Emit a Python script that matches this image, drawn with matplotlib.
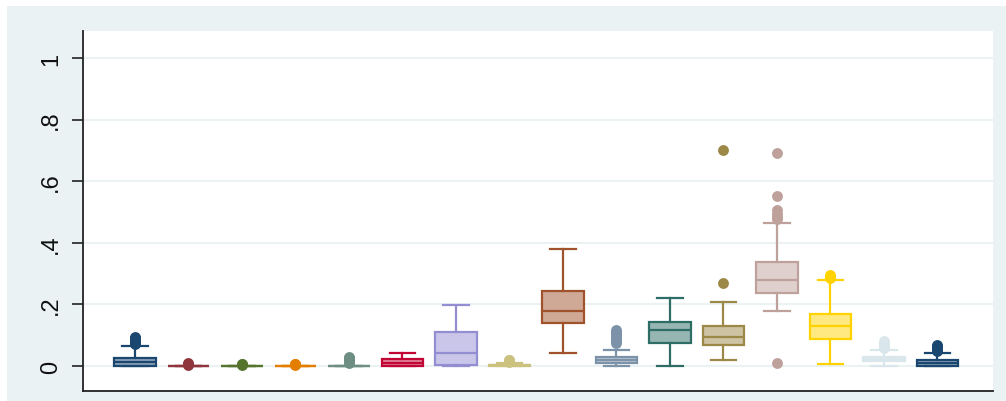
import matplotlib
matplotlib.use("Agg")
import matplotlib.pyplot as plt
from matplotlib.colors import to_rgb
from matplotlib.patches import Rectangle

# s2color palette, one colour per series (16th wraps to navy again)
colors = ["#1A476F", "#90353B", "#55752F", "#E37E00", "#6E8E84", "#C10534",
          "#938DD2", "#CAC27E", "#A0522D", "#7B92A8", "#2D6D66", "#9C8847",
          "#BFA19C", "#FFD200", "#D9E6EB", "#1A476F"]

# box statistics per series
q1 = [0.0, 0.0, 0.0, 0.0, 0.0, 0.0, 0.003, 0.0, 0.14, 0.01, 0.075, 0.069,
      0.237, 0.088, 0.015, 0.0]
med = [0.012, 0.0, 0.0, 0.0, 0.0, 0.01, 0.042, 0.002, 0.18, 0.02, 0.117, 0.093,
       0.279, 0.129, 0.022, 0.01]
q3 = [0.025, 0.0, 0.0, 0.0, 0.0, 0.022, 0.111, 0.004, 0.2435, 0.03, 0.142, 0.129,
      0.338, 0.169, 0.03, 0.019]
whislo = [0.0, 0.0, 0.0, 0.0, 0.0, 0.0, 0.0, 0.0, 0.041, 0.0, 0.0, 0.018,
          0.18, 0.006, 0.0, 0.0]
whishi = [0.066, 0.0, 0.0, 0.0, 0.0, 0.042, 0.198, 0.009, 0.379, 0.053, 0.221, 0.209,
          0.465, 0.279, 0.053, 0.042]
fliers = [
    [0.07, 0.075, 0.08, 0.085, 0.09, 0.095],
    [0.003, 0.006, 0.009],
    [0.002, 0.005, 0.008],
    [0.002, 0.005, 0.008],
    [0.01, 0.015, 0.02, 0.025, 0.03],
    [],
    [],
    [0.012, 0.015, 0.018, 0.021],
    [],
    [0.075, 0.08, 0.085, 0.09, 0.1, 0.105, 0.11, 0.118],
    [],
    [0.27, 0.70],
    [0.009, 0.478, 0.485, 0.495, 0.505, 0.553, 0.69],
    [0.285, 0.29, 0.295],
    [0.06, 0.065, 0.07, 0.075, 0.08],
    [0.048, 0.055, 0.06, 0.065, 0.068],
]

yticks = [0, 0.2, 0.4, 0.6, 0.8, 1.0]
ytick_labels = ["0", ".2", ".4", ".6", ".8", "1"]

plt.rcParams["font.family"] = ["Liberation Sans", "DejaVu Sans"]

fig = plt.figure(figsize=(10.06, 4.02), dpi=100, facecolor="white")
# graph region background
fig.add_artist(Rectangle((7 / 1006, 0), 1, 1 - 7 / 402, transform=fig.transFigure,
                         facecolor="#EAF2F3", edgecolor="none", zorder=-5))
ax = fig.add_axes([83 / 1006, 10 / 402, 910 / 1006, 360 / 402])
ax.set_zorder(1)
ax.set_facecolor("white")

stats = []
for i in range(len(colors)):
    stats.append(dict(q1=q1[i], med=med[i], q3=q3[i], whislo=whislo[i],
                      whishi=whishi[i], fliers=fliers[i]))

positions = list(range(1, len(colors) + 1))
bp = ax.bxp(stats, positions=positions, widths=0.78, patch_artist=True,
            showfliers=True, capwidths=0.48)

lw = 1.6
for i, c in enumerate(colors):
    r, g, b = to_rgb(c)
    fill = (0.5 * r + 0.5, 0.5 * g + 0.5, 0.5 * b + 0.5)
    box = bp["boxes"][i]
    box.set_facecolor(fill)
    box.set_edgecolor(c)
    box.set_linewidth(lw)
    bp["medians"][i].set_color(c)
    bp["medians"][i].set_linewidth(lw)
    for k in (2 * i, 2 * i + 1):
        bp["whiskers"][k].set_color(c)
        bp["whiskers"][k].set_linewidth(lw)
        bp["caps"][k].set_color(c)
        bp["caps"][k].set_linewidth(lw)
    fl = bp["fliers"][i]
    fl.set_marker("o")
    fl.set_markerfacecolor(c)
    fl.set_markeredgecolor(c)
    fl.set_markersize(6.8)

ax.set_xlim(0.028, 17.04)
ax.set_ylim(-0.0812, 1.0877)
ax.set_xticks([])
ax.set_yticks(yticks)
ax.set_yticklabels(ytick_labels, rotation=90, va="center", fontsize=17, color="#111111")
ax.tick_params(axis="y", length=8, width=1.2, pad=7, color="#222222")
ax.grid(axis="y", color="#EAF2F3", linewidth=1.5)
ax.set_axisbelow(True)

for s in ("top", "right"):
    ax.spines[s].set_visible(False)
for s in ("left", "bottom"):
    ax.spines[s].set_color("#222222")
    ax.spines[s].set_linewidth(1.3)

fig.savefig("out.png", dpi=100)
